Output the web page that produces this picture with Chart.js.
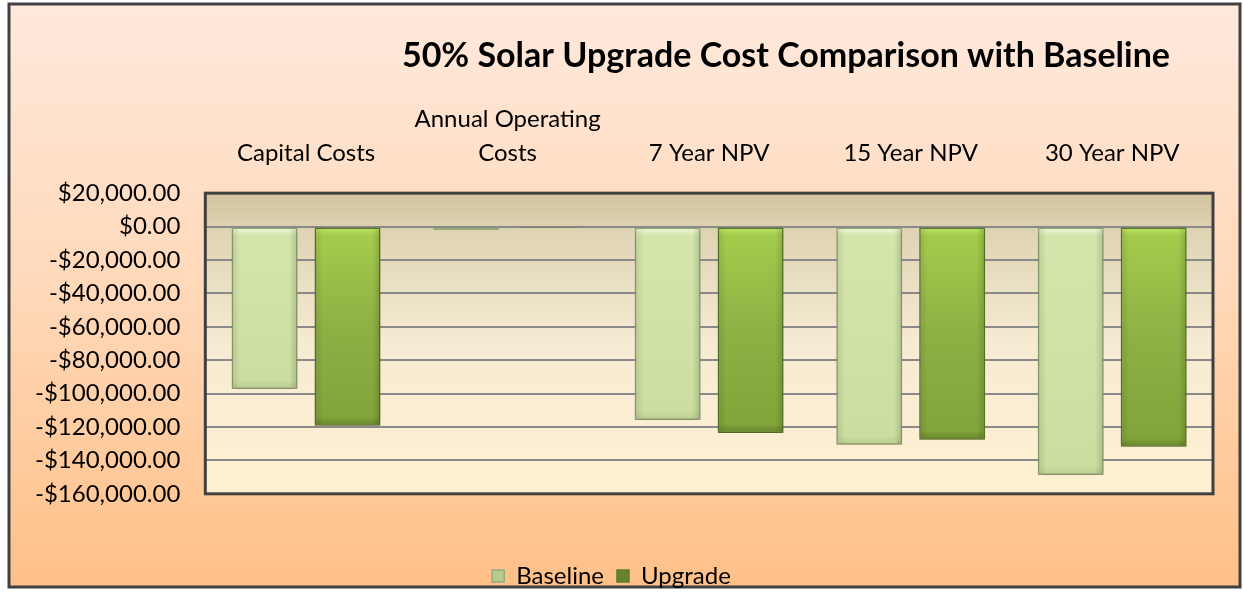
<!DOCTYPE html>
<html>
<head>
<meta charset="utf-8">
<script src="https://cdn.jsdelivr.net/npm/chart.js@4.4.0/dist/chart.umd.min.js"></script>
<style>
  html, body { margin: 0; padding: 0; background: #fff; }
  #graph { display: block; }
</style>
</head>
<body>
<canvas id="graph" width="1243" height="592"></canvas>
<script>
const categories = ['Capital Costs', ['Annual Operating', 'Costs'], '7 Year NPV', '15 Year NPV', '30 Year NPV'];
const baseline = [-97200, -2000, -115800, -130700, -148700];
const upgrade = [-119300, -300, -123600, -127700, -131900];
const yMin = -160000;
const yMax = 20000;
const yStep = 20000;
const titleText = '50% Solar Upgrade Cost Comparison with Baseline';

const canvas = document.querySelector('#graph');
const ctx = canvas.getContext('2d');
const FONT = 'Lato, "Open Sans", sans-serif';

function money(v){
    const s = Math.abs(v).toLocaleString('en-US', {minimumFractionDigits: 2, maximumFractionDigits: 2});
    return (v < 0 ? '-' : '') + '$' + s;
}

// bevelled vertical gradient per bar
function barFill(stops, solid){
    return (c) => {
        const chart = c.chart;
        if (c.type !== 'data' || !chart.chartArea || !chart.scales.y) return solid;
        const y = chart.scales.y;
        const top = y.getPixelForValue(0);
        const bot = y.getPixelForValue(c.raw);
        if (Math.abs(bot - top) < 2) return solid;
        const g = chart.ctx.createLinearGradient(0, top, 0, bot);
        const h = Math.abs(bot - top);
        const edge = Math.min(0.3, 9 / h);
        g.addColorStop(0, stops[0]);
        g.addColorStop(edge, stops[1]);
        g.addColorStop(0.5, stops[2]);
        g.addColorStop(1 - edge, stops[3]);
        g.addColorStop(1, stops[4]);
        return g;
    };
}

const frame = {
    id: 'frame',
    beforeDraw(chart){
        const c = chart.ctx;
        const a = chart.chartArea;
        c.save();
        const bg = c.createLinearGradient(0, 4, 0, 587);
        bg.addColorStop(0, '#ffe9dc');
        bg.addColorStop(0.5, '#ffd8b8');
        bg.addColorStop(1, '#ffc088');
        c.fillStyle = bg;
        c.fillRect(9, 4, 1231, 583);
        c.lineWidth = 3;
        c.strokeStyle = '#404040';
        c.strokeRect(9, 4, 1231, 583);
        const pg = c.createLinearGradient(0, a.top, 0, a.bottom);
        pg.addColorStop(0, '#d2c39e');
        pg.addColorStop(0.15, '#e0d6b6');
        pg.addColorStop(0.5, '#f6ebd3');
        pg.addColorStop(1, '#fff0d2');
        c.fillStyle = pg;
        c.fillRect(a.left, a.top, a.right - a.left, a.bottom - a.top);
        c.restore();
    },
    beforeDatasetsDraw(chart){
        const c = chart.ctx;
        c.save();
        c.shadowColor = 'rgba(60,50,20,0.35)';
        c.shadowBlur = 7;
        c.shadowOffsetY = 3;
    },
    afterDatasetsDraw(chart){
        const c = chart.ctx;
        c.restore();
        // side bevel on each bar, taken from the bar elements
        c.save();
        chart.data.datasets.forEach((ds, i) => {
            chart.getDatasetMeta(i).data.forEach((bar) => {
                const h = Math.abs(bar.base - bar.y);
                if (h < 20) return;
                const l = bar.x - bar.width / 2 + 1;
                const r = bar.x + bar.width / 2 - 1;
                const g = c.createLinearGradient(l, 0, r, 0);
                g.addColorStop(0, 'rgba(0,0,0,0.10)');
                g.addColorStop(0.12, 'rgba(0,0,0,0)');
                g.addColorStop(0.88, 'rgba(0,0,0,0)');
                g.addColorStop(1, 'rgba(0,0,0,0.14)');
                c.fillStyle = g;
                c.fillRect(l, Math.min(bar.y, bar.base) + 1, r - l, h - 2);
            });
        });
        c.restore();
    },
    afterDraw(chart){
        const c = chart.ctx;
        const a = chart.chartArea;
        c.save();
        c.lineWidth = 3;
        c.strokeStyle = '#404040';
        c.strokeRect(a.left, a.top, a.right - a.left, a.bottom - a.top);
        c.fillStyle = '#000';
        c.font = 'bold 34px ' + FONT;
        c.textAlign = 'right';
        c.textBaseline = 'alphabetic';
        c.fillText(titleText, a.right - 43, 67);
        c.restore();
    }
};

const chart = new Chart(ctx, {
    type: 'bar',
    data: {
        labels: categories,
        datasets: [{
            label: 'Baseline',
            data: baseline,
            backgroundColor: barFill(['#f4fae4', '#d4e6ab', '#d0e2a6', '#cbdea0', '#b6cc8e'], '#d0e2a6'),
            borderColor: '#98a97a',
            borderWidth: 1.5,
            borderSkipped: false
        }, {
            label: 'Upgrade',
            data: upgrade,
            backgroundColor: barFill(['#c0e868', '#a4cc4c', '#8eb144', '#82a53b', '#66852a'], '#8eb144'),
            borderColor: '#5d7a28',
            borderWidth: 1.5,
            borderSkipped: false
        }]
    },
    options: {
        responsive: false,
        animation: false,
        categoryPercentage: 0.823,
        barPercentage: 0.795,
        layout: { padding: { top: 79, right: 30, left: 10, bottom: -6 } },
        plugins: {
            title: { display: false },
            tooltip: { enabled: false },
            legend: {
                position: 'bottom',
                title: {
                    display: true,
                    text: ' ',
                    font: { size: 1 },
                    padding: { top: 56, bottom: 0 }
                },
                labels: {
                    color: '#000',
                    font: { family: FONT, size: 24 },
                    boxWidth: 12,
                    boxHeight: 12,
                    padding: 13
                }
            }
        },
        scales: {
            x: {
                position: 'top',
                grid: { display: false, drawTicks: false },
                border: { display: false },
                ticks: {
                    color: '#000',
                    font: { family: FONT, size: 24, lineHeight: 1.42 },
                    padding: 23,
                    maxRotation: 0,
                    autoSkip: false
                }
            },
            y: {
                min: yMin,
                max: yMax,
                grid: { color: '#8a8a8a', lineWidth: 2, drawTicks: false },
                border: { display: false },
                ticks: {
                    stepSize: yStep,
                    color: '#000',
                    font: { family: FONT, size: 24 },
                    padding: 25,
                    callback: (v) => money(v)
                }
            }
        }
    },
    plugins: [frame]
});
</script>
</body>
</html>
